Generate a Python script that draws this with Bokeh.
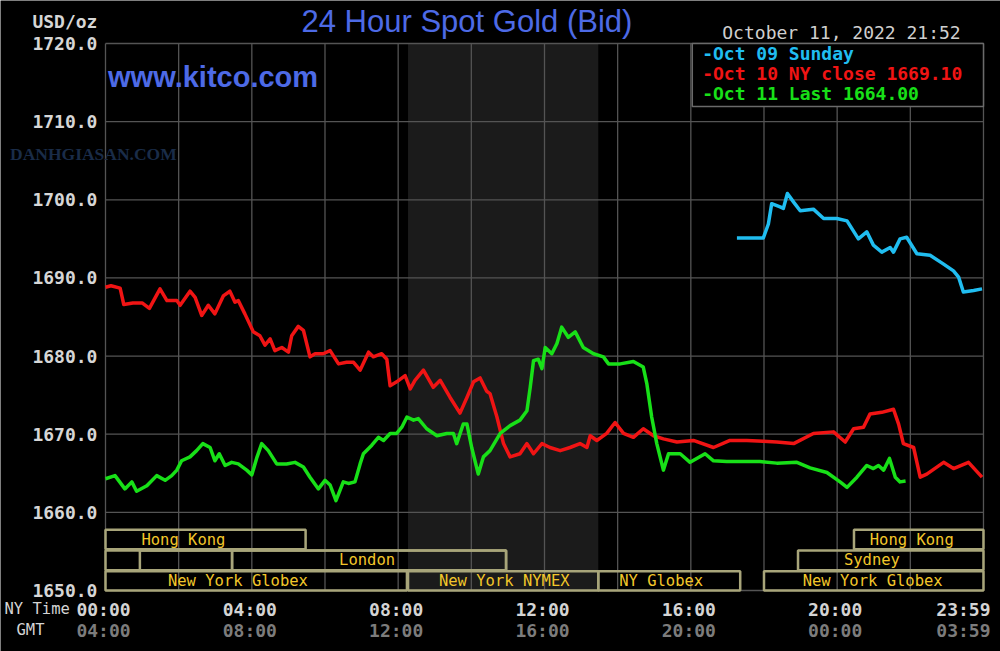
from bokeh.plotting import figure
from bokeh.models import Range1d
from bokeh.core.properties import value
from bokeh.embed import file_html
from bokeh.resources import INLINE

# ---------------- data ----------------
# hours after NY midnight, price USD/oz
oct09_hours = [17.26, 17.98, 18.12, 18.21, 18.44, 18.53, 18.64, 18.81, 18.99, 19.35, 19.63, 19.99,
               20.27, 20.58, 20.81, 20.99, 21.22, 21.45, 21.54, 21.72, 21.90, 22.18, 22.54, 22.90,
               23.18, 23.32, 23.45, 23.73, 23.96]
oct09_price = [1695.1, 1695.1, 1696.9, 1699.5, 1699.1, 1698.9, 1700.8, 1699.7, 1698.6, 1698.8, 1697.6, 1697.6,
               1697.3, 1695.0, 1695.9, 1694.2, 1693.3, 1693.9, 1693.3, 1695.0, 1695.2, 1693.1, 1692.9, 1691.8,
               1690.9, 1690.1, 1688.2, 1688.4, 1688.6]

oct10_hours = [0.00, 0.15, 0.40, 0.50, 0.75, 1.00, 1.20, 1.49, 1.68, 1.95, 2.04, 2.31, 2.45, 2.63, 2.81, 2.99,
               3.22, 3.40, 3.54, 3.63, 3.81, 4.04, 4.22, 4.36, 4.50, 4.63, 4.82, 5.00, 5.09, 5.27, 5.41, 5.59,
               5.73, 5.95, 6.14, 6.37, 6.59, 6.78, 6.96, 7.19, 7.32, 7.55, 7.69, 7.78, 7.96, 8.19, 8.33, 8.46,
               8.69, 8.96, 9.15, 9.42, 9.69, 9.88, 10.06, 10.24, 10.42, 10.51, 10.70, 10.88, 11.06, 11.33,
               11.52, 11.70, 11.93, 12.15, 12.43, 12.70, 12.97, 13.16, 13.25, 13.43, 13.70, 13.93, 14.16,
               14.43, 14.70, 14.98, 15.25, 15.62, 16.07, 16.62, 17.07, 17.53, 17.98, 18.35, 18.81, 19.35,
               19.90, 20.22, 20.45, 20.72, 20.90, 21.22, 21.54, 21.68, 21.81, 22.09, 22.27, 22.45, 22.91,
               23.18, 23.59, 23.96]
oct10_price = [1688.8, 1689.0, 1688.7, 1686.6, 1686.8, 1686.8, 1686.1, 1688.6, 1687.1, 1687.1, 1686.5, 1688.3,
               1687.5, 1685.2, 1686.5, 1685.4, 1687.7, 1688.3, 1686.9, 1687.1, 1685.4, 1683.1, 1682.6, 1681.4,
               1682.2, 1680.7, 1681.1, 1680.5, 1682.6, 1683.8, 1683.3, 1679.9, 1680.3, 1680.3, 1680.7, 1679.0,
               1679.2, 1679.2, 1678.2, 1680.5, 1679.9, 1680.3, 1679.6, 1676.2, 1676.7, 1677.5, 1675.8, 1676.9,
               1678.2, 1676.0, 1676.9, 1674.7, 1672.7, 1674.7, 1676.7, 1677.2, 1675.5, 1675.2, 1672.2, 1668.8,
               1667.1, 1667.5, 1668.8, 1667.5, 1668.8, 1668.3, 1667.9, 1668.3, 1668.8, 1668.3, 1669.8, 1669.2,
               1670.1, 1671.5, 1670.1, 1669.6, 1670.7, 1669.8, 1669.4, 1669.0, 1669.2, 1668.3, 1669.2, 1669.2,
               1669.1, 1669.0, 1668.8, 1670.1, 1670.3, 1669.0, 1670.7, 1670.9, 1672.6, 1672.8, 1673.2, 1671.3,
               1668.8, 1668.3, 1664.5, 1664.9, 1666.4, 1665.6, 1666.4, 1664.5]

oct11_hours = [0.00, 0.26, 0.53, 0.72, 0.85, 1.13, 1.40, 1.63, 1.81, 1.95, 2.08, 2.31, 2.49, 2.66, 2.86, 2.99,
               3.11, 3.27, 3.45, 3.63, 3.86, 4.00, 4.13, 4.27, 4.45, 4.68, 4.95, 5.18, 5.41, 5.59, 5.82, 6.00,
               6.14, 6.30, 6.50, 6.64, 6.82, 6.96, 7.05, 7.28, 7.46, 7.60, 7.78, 7.96, 8.10, 8.24, 8.42, 8.55,
               8.78, 9.06, 9.33, 9.51, 9.60, 9.78, 9.88, 10.01, 10.19, 10.33, 10.51, 10.79, 11.06, 11.33,
               11.52, 11.61, 11.70, 11.83, 11.93, 12.02, 12.20, 12.34, 12.47, 12.65, 12.84, 13.06, 13.34,
               13.61, 13.75, 14.07, 14.43, 14.70, 14.80, 14.93, 15.07, 15.25, 15.39, 15.71, 15.98, 16.39,
               16.62, 16.98, 17.89, 18.35, 18.90, 19.26, 19.72, 20.08, 20.27, 20.54, 20.81, 20.99, 21.13,
               21.27, 21.43, 21.59, 21.72, 21.87]
oct11_price = [1664.3, 1664.7, 1663.0, 1663.9, 1662.7, 1663.4, 1664.7, 1664.1, 1664.7, 1665.4, 1666.6, 1667.1,
               1667.9, 1668.8, 1668.3, 1666.6, 1667.5, 1666.0, 1666.4, 1666.2, 1665.4, 1664.8, 1666.9, 1668.8,
               1667.9, 1666.2, 1666.2, 1666.4, 1665.8, 1664.5, 1663.0, 1664.1, 1663.5, 1661.5, 1663.9, 1663.7,
               1663.9, 1666.2, 1667.5, 1668.6, 1669.6, 1669.2, 1670.1, 1670.1, 1670.9, 1672.2, 1671.8, 1672.0,
               1670.7, 1669.8, 1670.1, 1670.1, 1668.8, 1671.3, 1671.3, 1668.3, 1664.9, 1667.1, 1667.9, 1670.1,
               1671.1, 1671.8, 1673.0, 1676.0, 1679.4, 1679.6, 1678.4, 1681.1, 1680.3, 1681.6, 1683.7, 1682.4,
               1683.1, 1681.1, 1680.3, 1679.9, 1679.0, 1679.0, 1679.3, 1678.6, 1676.4, 1672.2, 1668.8, 1665.4,
               1667.5, 1667.5, 1666.4, 1667.5, 1666.6, 1666.5, 1666.5, 1666.3, 1666.4, 1665.7, 1665.1, 1663.9,
               1663.2, 1664.5, 1666.0, 1665.6, 1666.0, 1665.4, 1666.9, 1664.5, 1663.9, 1664.0]

legend_labels = ["-Oct 09 Sunday", "-Oct 10 NY close 1669.10", "-Oct 11 Last 1664.00"]
series_colors = ["#20bdf0", "#f01414", "#18e018"]

y_ticks = [1650, 1660, 1670, 1680, 1690, 1700, 1710, 1720]
x_grid_hours = [0, 2, 4, 6, 8, 10, 12, 14, 16, 18, 20, 22, 24]
ny_tick_hours = [0, 4, 8, 12, 16, 20]
ny_tick_labels = ["00:00", "04:00", "08:00", "12:00", "16:00", "20:00"]
gmt_tick_labels = ["04:00", "08:00", "12:00", "16:00", "20:00", "00:00"]
end_ny_label, end_gmt_label = "23:59", "03:59"

# trading sessions: (row, start hour, end hour)
session_row = [0, 0, 1, 1, 1, 1, 2, 2, 2, 2]
session_start = [0.0, 20.46, 0.0, 0.94, 3.46, 18.93, 0.0, 8.27, 13.47, 18.0]
session_end = [5.47, 24.0, 10.95, 3.46, 10.95, 24.0, 8.24, 13.47, 17.35, 24.0]
session_names = ["Hong Kong", "Hong Kong", "London", "Sydney",
                 "New York Globex", "New York NYMEX", "NY Globex", "New York Globex"]
session_name_row = [0, 0, 1, 1, 2, 2, 2, 2]
session_name_hour = [2.13, 22.04, 7.15, 20.95, 3.62, 10.90, 15.19, 20.97]
nymex_start, nymex_end = 8.27, 13.47

# ---------------- figure ----------------
H0, H1 = 0, 24
Y0, Y1 = 1650, 1720
p = figure(width=1000, height=651, output_backend="svg", toolbar_location=None,
           x_range=Range1d(-2.870, 24.465), y_range=Range1d(1642.194, 1725.503),
           x_axis_location=None, y_axis_location=None,
           min_border=0, min_border_left=0, min_border_right=0,
           min_border_top=0, min_border_bottom=0,
           background_fill_color="#000000", border_fill_color="#000000")
p.outline_line_color = None
p.grid.visible = False

MONO = value("DejaVu Sans Mono")
grid_color = "#545454"

# NYMEX shaded period
p.quad(left=[nymex_start], right=[nymex_end], bottom=[Y0], top=[Y1],
       fill_color="#1b1b1b", line_color=None)

# grid
p.segment(x0=x_grid_hours, x1=x_grid_hours, y0=[Y0] * len(x_grid_hours), y1=[Y1] * len(x_grid_hours),
          line_color=grid_color, line_width=1.3)
p.segment(x0=[H0] * len(y_ticks), x1=[H1] * len(y_ticks), y0=y_ticks, y1=y_ticks,
          line_color=grid_color, line_width=1.3)

# session boxes
row_top = [1657.77, 1655.12, 1652.45]
row_bot = [1655.28, 1652.60, 1650.0]
p.quad(left=session_start, right=session_end,
       bottom=[row_bot[r] for r in session_row], top=[row_top[r] for r in session_row],
       fill_color=None, line_color="#a8a57a", line_width=2.5)

# price lines
for hrs, prc, col in zip([oct09_hours, oct10_hours, oct11_hours],
                         [oct09_price, oct10_price, oct11_price], series_colors):
    p.line(hrs, prc, line_color=col, line_width=3.5, line_join="round")

# legend box + entries
p.quad(left=[16.04], right=[24], bottom=[1711.94], top=[Y1],
       fill_color="#000000", line_color="#6a6a6a", line_width=1.5)
p.text(x=[16.31] * 3, y=[1718.72 - i * 2.56 for i in range(3)], text=legend_labels,
       text_color=series_colors, text_font=MONO, text_font_style="bold",
       text_font_size=value("18px"), text_baseline="middle", text_align="left")

# session names
row_mid = [1656.52, 1653.86, 1651.21]
p.text(x=session_name_hour, y=[row_mid[r] for r in session_name_row], text=session_names,
       text_color="#f2c62a", text_font=MONO, text_font_size=value("15.5px"),
       text_baseline="middle", text_align="center")

# y tick labels
p.text(x=[-0.22] * len(y_ticks), y=y_ticks, text=[f"{t:.1f}" for t in y_ticks],
       text_color="#d6d6d6", text_font=MONO, text_font_style="bold",
       text_font_size=value("18px"), text_baseline="middle", text_align="right")

# time labels
ny_y, gmt_y = 1647.63, 1644.88
p.text(x=ny_tick_hours, y=[ny_y] * len(ny_tick_hours), text=ny_tick_labels, x_offset=-2,
       text_color="#d4d4d4", text_font=MONO, text_font_style="bold",
       text_font_size=value("18px"), text_baseline="middle", text_align="center")
p.text(x=ny_tick_hours, y=[gmt_y] * len(ny_tick_hours), text=gmt_tick_labels, x_offset=-2,
       text_color="#7c7c7c", text_font=MONO, text_font_style="bold",
       text_font_size=value("18px"), text_baseline="middle", text_align="center")
p.text(x=[24, 24], y=[ny_y, gmt_y], text=[end_ny_label, end_gmt_label], x_offset=7,
       text_color=["#d4d4d4", "#7c7c7c"], text_font=MONO, text_font_style="bold",
       text_font_size=value("18px"), text_baseline="middle", text_align="right")
p.text(x=[-2.76], y=[ny_y], text=["NY Time"], text_color="#d4d4d4", text_font=MONO,
       text_font_size=value("15.5px"), text_baseline="middle", text_align="left")
p.text(x=[-2.05], y=[1645.0], text=["GMT"], text_color="#d4d4d4", text_font=MONO,
       text_font_size=value("15.5px"), text_baseline="middle", text_align="center")

# header texts
p.text(x=[-0.22], y=[1722.82], text=["USD/oz"], text_color="#d6d6d6", text_font=MONO,
       text_font_style="bold", text_font_size=value("18px"),
       text_baseline="middle", text_align="right")
p.text(x=[9.88], y=[1722.8], text=["24 Hour Spot Gold (Bid)"], text_color="#4d6ae6",
       text_font=value("Liberation Sans"), text_font_size=value("31px"),
       text_baseline="middle", text_align="center")
p.text(x=[16.86], y=[1721.41], text=["October 11, 2022 21:52"], text_color="#cfcfcf",
       text_font=MONO, text_font_size=value("18px"),
       text_baseline="middle", text_align="left")
p.text(x=[-2.61], y=[1705.92], text=["DANHGIASAN.COM"], text_color="#1a2c48",
       text_font=value("Liberation Serif"), text_font_style="bold", text_font_size=value("17.5px"),
       text_baseline="middle", text_align="left")
p.text(x=[0.07], y=[1715.65], text=["www.kitco.com"], text_color="#4d6ae6",
       text_font=value("Liberation Sans"), text_font_style="bold", text_font_size=value("29px"),
       text_baseline="middle", text_align="left")

open("out.html", "w").write(file_html(p, INLINE))
